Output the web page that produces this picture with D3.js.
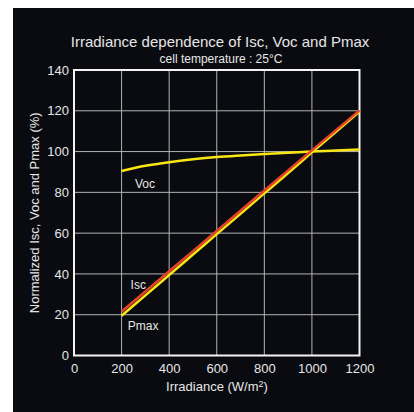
<!DOCTYPE html>
<html><head><meta charset="utf-8">
<script src="https://cdn.jsdelivr.net/npm/d3@7"></script>
<style>html,body{margin:0;padding:0;background:#fff;}svg{display:block;}</style>
</head><body>
<script>
const irradiance = [200, 300, 400, 500, 600, 700, 800, 900, 1000, 1100, 1200];
const isc  = [21.5, 31.4, 41.3, 51.2, 61.1, 71.0, 80.9, 90.8, 100.6, 110.4, 120.2];
const pmax = [19.5, 29.5, 39.5, 49.5, 59.5, 69.5, 79.5, 89.5, 99.6, 109.6, 119.6];
const voc  = [90.5, 93.0, 94.8, 96.2, 97.3, 98.1, 98.8, 99.4, 100.0, 100.5, 101.0];
const xTicks = [0, 200, 400, 600, 800, 1000, 1200];
const yTicks = [0, 20, 40, 60, 80, 100, 120, 140];

const W = 414, H = 412;
const svg = d3.select("body").append("svg").attr("width", W).attr("height", H);
svg.append("rect").attr("x", 13).attr("y", 8).attr("width", W - 13).attr("height", H - 8).attr("fill", "#0a0b10");

const x = d3.scaleLinear().domain([0, 1200]).range([74, 359.5]);
const y = d3.scaleLinear().domain([0, 140]).range([355.5, 70]);
const font = "'Liberation Sans', Arial, sans-serif";
const txt = "#e6e6e6";

// grid
svg.append("g").selectAll("line").data(xTicks.slice(1, -1)).join("line")
  .attr("x1", d => x(d)).attr("x2", d => x(d)).attr("y1", y(140)).attr("y2", y(0))
  .attr("stroke", "#b4b4b4").attr("stroke-width", 1);
svg.append("g").selectAll("line").data(yTicks.slice(1, -1)).join("line")
  .attr("y1", d => y(d)).attr("y2", d => y(d)).attr("x1", x(0)).attr("x2", x(1200))
  .attr("stroke", "#b4b4b4").attr("stroke-width", 1);
// frame
svg.append("rect").attr("x", x(0)).attr("y", y(140)).attr("width", x(1200) - x(0)).attr("height", y(0) - y(140))
  .attr("fill", "none").attr("stroke", "#f4f4f4").attr("stroke-width", 2);

// axes
const xAxis = d3.axisBottom(x).tickValues(xTicks).tickFormat(d3.format("d")).tickSize(0).tickPadding(8);
const gx = svg.append("g").attr("transform", `translate(0,${y(0)})`).call(xAxis);
gx.select(".domain").remove();
gx.selectAll("text").attr("fill", txt).attr("font-size", 13).attr("font-family", font);

const yAxis = d3.axisLeft(y).tickValues(yTicks).tickFormat(d3.format("d")).tickSize(0).tickPadding(5);
const gy = svg.append("g").attr("transform", `translate(${x(0)},0)`).call(yAxis);
gy.select(".domain").remove();
gy.selectAll("text").attr("fill", txt).attr("font-size", 13).attr("font-family", font);

// lines
const line = d3.line().x((d, i) => x(irradiance[i])).y(d => y(d)).curve(d3.curveMonotoneX);
svg.append("path").datum(voc).attr("d", line).attr("fill", "none").attr("stroke", "#f7e614").attr("stroke-width", 2.5);
svg.append("path").datum(pmax).attr("d", line).attr("fill", "none").attr("stroke", "#f7e614").attr("stroke-width", 2.5);
svg.append("path").datum(isc).attr("d", line).attr("fill", "none").attr("stroke", "#e8402a").attr("stroke-width", 2.5);

// series labels
const lab = (t, xv, yv) => svg.append("text").attr("x", x(xv)).attr("y", y(yv)).text(t)
  .attr("fill", txt).attr("font-size", 12).attr("font-family", font);
lab("Voc", 256, 82);
lab("Isc", 238, 32.5);
lab("Pmax", 226, 12.5);

// titles
svg.append("text").attr("x", 220).attr("y", 47).attr("text-anchor", "middle").text("Irradiance dependence of Isc, Voc and Pmax")
  .attr("fill", txt).attr("font-size", 15).attr("font-family", font);
svg.append("text").attr("x", 221).attr("y", 63).attr("text-anchor", "middle").text("cell temperature : 25°C")
  .attr("fill", txt).attr("font-size", 12).attr("font-family", font);

const xl = svg.append("text").attr("x", 217).attr("y", 391).attr("text-anchor", "middle")
  .attr("fill", txt).attr("font-size", 13).attr("font-family", font);
xl.append("tspan").text("Irradiance (W/m");
xl.append("tspan").text("2").attr("font-size", 9).attr("dy", -4);
xl.append("tspan").text(")").attr("dy", 4);

svg.append("text").attr("transform", `translate(39,${(y(0)+y(140))/2}) rotate(-90)`).attr("text-anchor", "middle")
  .text("Normalized Isc, Voc and Pmax (%)").attr("fill", txt).attr("font-size", 13).attr("font-family", font);
</script>
</body></html>
